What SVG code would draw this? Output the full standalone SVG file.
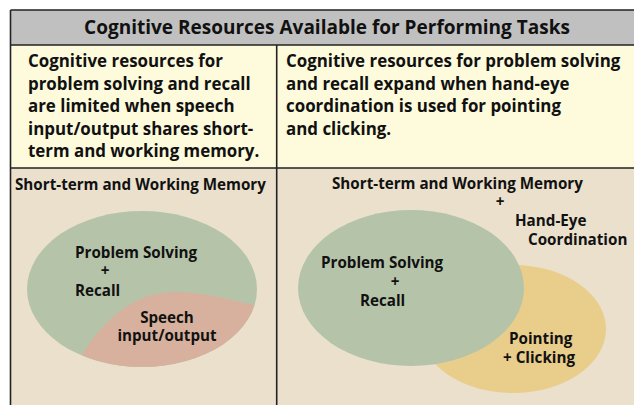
<svg xmlns="http://www.w3.org/2000/svg" width="634" height="405" viewBox="0 0 634 405">
<defs>
<style>
text{font-family:"Open Sans","Liberation Sans",sans-serif;font-weight:bold;fill:#111;}
.title{font-size:19px;}
.cell{font-size:16.9px;}
.lbl{font-size:15.2px;}
.line{stroke:#222;stroke-width:1.6;fill:none;}
</style>
<clipPath id="clipL"><ellipse cx="142" cy="289" rx="115" ry="78"/></clipPath>
</defs>
<rect width="634" height="405" fill="#ffffff"/>
<g id="frame">
<rect x="10.5" y="10" width="624" height="35" fill="#c0c0c0"/>
<rect x="10.5" y="45" width="624" height="123" fill="#fefbdd"/>
<rect x="10.5" y="168" width="624" height="237" fill="#eae0cc"/>
<path class="line" d="M10.5 10H634M10.5 45H634M10.5 168H634M10.5 10V405M276.7 45V405"/>
</g>
<g id="title"><text class="title" x="327" y="33.5" text-anchor="middle">Cognitive Resources Available for Performing Tasks</text></g>
<g id="cell-left">
<text class="cell" x="28" y="67">Cognitive resources for</text>
<text class="cell" x="28" y="89.5">problem solving and recall</text>
<text class="cell" x="28" y="112">are limited when speech</text>
<text class="cell" x="28" y="134.5">input/output shares short-</text>
<text class="cell" x="28" y="157">term and working memory.</text>
</g>
<g id="cell-right">
<text class="cell" x="286" y="67">Cognitive resources for problem solving</text>
<text class="cell" x="286" y="89.5">and recall expand when hand-eye</text>
<text class="cell" x="286" y="112">coordination is used for pointing</text>
<text class="cell" x="286" y="134.5">and clicking.</text>
</g>
<g id="left-diagram">
<text class="lbl" x="15" y="190">Short-term and Working Memory</text>
<ellipse cx="142" cy="289" rx="115" ry="78" fill="#b5c4a9"/>
<path clip-path="url(#clipL)" fill="#d7b19d" d="M80 358 C108 312 140 292 175 292 C205 292 230 300 258 306 L270 380 L60 380 Z"/>
<text class="lbl" x="75" y="258">Problem Solving</text>
<text class="lbl" x="105" y="276" text-anchor="middle">+</text>
<text class="lbl" x="75" y="296">Recall</text>
<text class="lbl" x="167" y="323" text-anchor="middle">Speech</text>
<text class="lbl" x="167" y="341" text-anchor="middle">input/output</text>
</g>
<g id="right-diagram">
<text class="lbl" x="332" y="189">Short-term and Working Memory</text>
<text class="lbl" x="500" y="207" text-anchor="middle">+</text>
<text class="lbl" x="515" y="226">Hand-Eye</text>
<text class="lbl" x="528" y="245">Coordination</text>
<ellipse id="pointing" cx="513" cy="329" rx="93" ry="64" fill="#e9cd8b"/>
<ellipse id="problem" cx="411" cy="288" rx="113" ry="78" fill="#b5c4a9"/>
<text class="lbl" x="321" y="268">Problem Solving</text>
<text class="lbl" x="395" y="287" text-anchor="middle">+</text>
<text class="lbl" x="360" y="306">Recall</text>
<text class="lbl" x="509" y="344">Pointing</text>
<text class="lbl" x="503" y="363">+ Clicking</text>
</g>
</svg>
